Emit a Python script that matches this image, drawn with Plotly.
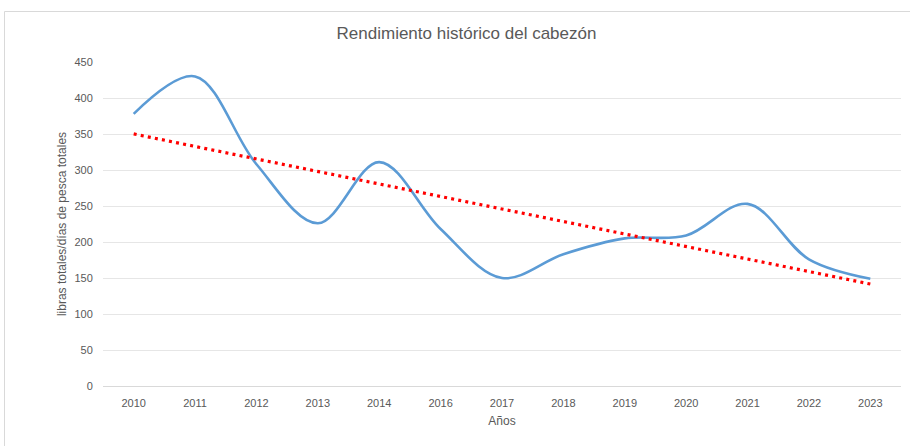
import numpy as np
import plotly.graph_objects as go

title = "Rendimiento histórico del cabezón"
years = ["2010", "2011", "2012", "2013", "2014", "2016", "2017",
         "2018", "2019", "2020", "2021", "2022", "2023"]
rendimiento = [378, 430, 308, 226, 311, 218, 150, 183, 205, 209, 253, 176, 149]
y_ticks = [0, 50, 100, 150, 200, 250, 300, 350, 400, 450]

# Linear trendline (like Excel's), fitted over category index
idx = np.arange(1, len(years) + 1)
slope, intercept = np.polyfit(idx, rendimiento, 1)
trend = slope * idx + intercept

W, H = 910, 446
L, R, T, B = 103, 9, 62, 60
pw = W - L - R
ph = H - T - B

def px_x(p):
    return (p - L) / pw

def px_y(p):
    return (H - B - p) / ph

font = "Liberation Sans, Arial, sans-serif"

fig = go.Figure()
fig.add_trace(go.Scatter(
    x=years, y=rendimiento, mode="lines",
    line=dict(color="#5B9BD5", width=2.6, shape="spline", smoothing=1.0),
    showlegend=False, hoverinfo="x+y"))
fig.add_trace(go.Scatter(
    x=years, y=trend, mode="lines",
    line=dict(color="#FF0000", width=3.2, dash="3px,4.2px"),
    showlegend=False, hoverinfo="skip"))

fig.update_layout(
    width=W, height=H,
    margin=dict(l=L, r=R, t=T, b=B, autoexpand=False),
    paper_bgcolor="white", plot_bgcolor="white",
    font=dict(family=font, color="#595959", size=11),
    title=dict(text=title, x=466.5 / W, xref="container", xanchor="center",
               y=1 - 33 / H, yref="container", yanchor="middle",
               font=dict(family=font, size=17, color="#595959")),
    shapes=[dict(type="rect", xref="paper", yref="paper",
                 x0=px_x(4.5), x1=px_x(915), y0=px_y(11.5), y1=px_y(460),
                 line=dict(color="#D9D9D9", width=1), fillcolor="rgba(0,0,0,0)",
                 layer="below")],
)
fig.update_xaxes(
    type="category", categoryorder="array", categoryarray=years,
    range=[-0.5, len(years) - 0.5],
    showgrid=False, showline=False, zeroline=False,
    ticks="outside", ticklen=7, tickcolor="rgba(0,0,0,0)",
    tickfont=dict(family=font, size=11, color="#595959"),
    title=dict(text="Años", standoff=8, font=dict(family=font, size=12, color="#595959")),
)
fig.update_yaxes(
    range=[0, 450], tickvals=y_ticks,
    showgrid=True, gridcolor="#E6E6E6", gridwidth=1,
    zeroline=True, zerolinecolor="#D9D9D9", zerolinewidth=1,
    showline=False,
    ticks="outside", ticklen=7, tickcolor="rgba(0,0,0,0)",
    tickfont=dict(family=font, size=11, color="#595959"),
    title=dict(text="libras totales/días de pesca totales", standoff=5,
               font=dict(family=font, size=12, color="#595959")),
)

fig.write_html("out.html",
               config={"displayModeBar": False},
               post_script="document.body.style.margin='0';document.body.style.overflow='hidden';")
